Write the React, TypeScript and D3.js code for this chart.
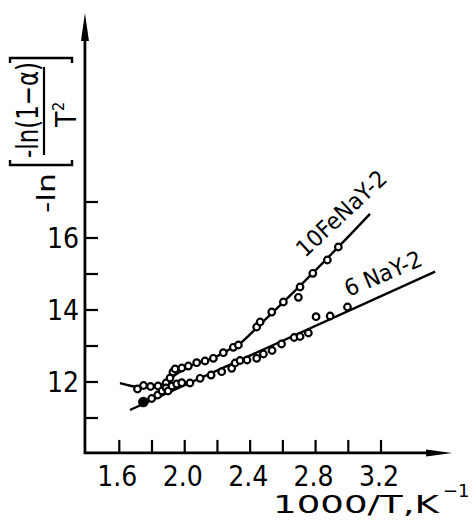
import * as d3 from "d3";

const FONT = '"Liberation Sans Narrow", "DejaVu Sans Condensed", "Liberation Sans", sans-serif';
const WIDE = '"DejaVu Sans", "Liberation Sans", sans-serif';

// 10FeNaY-2 measured points
const feX = [1.711, 1.748, 1.791, 1.837, 1.886, 1.91, 1.928, 1.941, 1.982, 2.022, 2.073, 2.124, 2.175, 2.236, 2.297, 2.328, 2.44, 2.461, 2.532, 2.603, 2.695, 2.705, 2.783, 2.872, 2.939];
const feY = [11.806, 11.903, 11.875, 11.889, 11.972, 12.111, 12.278, 12.361, 12.389, 12.444, 12.536, 12.583, 12.658, 12.814, 12.964, 13.028, 13.528, 13.667, 13.944, 14.222, 14.353, 14.639, 15.019, 15.389, 15.75];
// 10FeNaY-2 fitted curve
const feFitX = [1.604, 1.7, 1.79, 1.87, 1.95, 2.06, 2.18, 2.29, 2.34, 2.45, 2.7, 2.95, 3.133];
const feFitY = [11.97, 11.87, 11.86, 11.95, 12.22, 12.5, 12.68, 12.95, 13.08, 13.55, 14.65, 15.8, 16.67];

// 6 NaY-2 measured points
const naX = [1.747, 1.798, 1.835, 1.861, 1.886, 1.898, 1.922, 1.951, 1.982, 2.032, 2.094, 2.161, 2.226, 2.287, 2.308, 2.338, 2.381, 2.44, 2.481, 2.534, 2.592, 2.669, 2.705, 2.756, 2.803, 2.889, 2.995];
const naY = [11.444, 11.542, 11.639, 11.75, 11.833, 11.75, 11.889, 11.944, 11.981, 11.972, 12.103, 12.194, 12.286, 12.381, 12.528, 12.597, 12.611, 12.658, 12.778, 12.875, 13.056, 13.236, 13.264, 13.361, 13.814, 13.833, 14.083];
// 6 NaY-2 fitted line
const naFitX = [1.665, 3.531];
const naFitY = [11.222, 15.064];

const xTicks = [1.6, 1.8, 2.0, 2.2, 2.4, 2.6, 2.8, 3.0, 3.2];
const xTickLabels = ["1.6", "2.0", "2.4", "2.8", "3.2"];
const yTicks = [11, 12, 13, 14, 15, 16, 17];
const yTickLabels = ["12", "14", "16"];

const xExtent = [1.39, 3.635];
const yExtent = [10.03, 22.25];

export default function App() {
  const x = d3.scaleLinear().domain([1.6, 3.2]).range([119.3, 381]);
  const y = d3.scaleLinear().domain([12, 16]).range([382, 238]);

  const x0 = x(xExtent[0]);
  const x1 = x(xExtent[1]);
  const y0 = y(yExtent[0]);
  const y1 = y(yExtent[1]);

  const curve = d3
    .line<[number, number]>()
    .x((d) => x(d[0]))
    .y((d) => y(d[1]))
    .curve(d3.curveCatmullRom.alpha(0.5));
  const straight = d3
    .line<[number, number]>()
    .x((d) => x(d[0]))
    .y((d) => y(d[1]));

  const fePts = feX.map((v, i) => [v, feY[i]] as [number, number]);
  const naPts = naX.map((v, i) => [v, naY[i]] as [number, number]);
  const feFit = feFitX.map((v, i) => [v, feFitY[i]] as [number, number]);
  const naFit = naFitX.map((v, i) => [v, naFitY[i]] as [number, number]);

  const ink = "#000";

  return (
    <svg
      width={476}
      height={520}
      style={{ position: "absolute", left: 0, top: 0, background: "#fff" }}
      fontFamily={FONT}
    >
      {/* axes */}
      <line x1={x0} y1={y0 + 1} x2={x0} y2={y1 + 20} stroke={ink} strokeWidth={2.8} />
      <path d={`M${x0},${y1} L${x0 - 4},${y1 + 28} L${x0 + 4},${y1 + 28} Z`} fill={ink} />
      <line x1={x0 - 1} y1={y0} x2={x1 - 20} y2={y0} stroke={ink} strokeWidth={2.8} />
      <path d={`M${x1},${y0} L${x1 - 26},${y0 - 3.5} L${x1 - 26},${y0 + 3.5} Z`} fill={ink} />

      {xTicks.map((t) => (
        <line key={t} x1={x(t)} x2={x(t)} y1={y0} y2={y0 - 13} stroke={ink} strokeWidth={2.2} />
      ))}
      {xTickLabels.map((t) => (
        <text key={t} x={x(+t) - 2} y={486} fontSize={28} textAnchor="middle" fill={ink}>
          {t}
        </text>
      ))}
      {yTicks.map((t) => (
        <line key={t} x1={x0} x2={x0 + 13} y1={y(t)} y2={y(t)} stroke={ink} strokeWidth={2.2} />
      ))}
      {yTickLabels.map((t) => (
        <text key={t} x={79} y={y(+t) + 10} fontSize={28} textAnchor="end" fill={ink}>
          {t}
        </text>
      ))}

      {/* x axis title */}
      <text
        x={273}
        y={513}
        fontSize={25}
        fontFamily={WIDE}
        fill={ink}
        textLength={166}
        lengthAdjust="spacingAndGlyphs"
      >
        1000/T,K
      </text>
      <text x={443} y={497} fontSize={18} fontFamily={WIDE} fill={ink}>
        −1
      </text>

      {/* y axis title */}
      <g transform="translate(0,215) rotate(-90)" fill={ink}>
        <text x={2} y={55} fontSize={24} textLength={40} lengthAdjust="spacingAndGlyphs">
          -ln
        </text>
        <path d="M55,10 L50,10 L50,72 L55,72" fill="none" stroke={ink} strokeWidth={2.4} />
        <path d="M152,10 L157,10 L157,72 L152,72" fill="none" stroke={ink} strokeWidth={2.4} />
        <text x={57} y={38} fontSize={30} fontFamily={WIDE} textLength={96} lengthAdjust="spacingAndGlyphs">
          -ln(1−α)
        </text>
        <line x1={60} x2={148} y1={44} y2={44} stroke={ink} strokeWidth={2.2} />
        <text x={88} y={76} fontSize={28}>
          T
        </text>
        <text x={104} y={64} fontSize={16}>
          2
        </text>
      </g>

      {/* fitted lines */}
      <path d={curve(feFit) || ""} fill="none" stroke={ink} strokeWidth={2.4} />
      <path d={straight(naFit) || ""} fill="none" stroke={ink} strokeWidth={2.4} />

      {/* points */}
      {fePts.map((d, i) => (
        <circle key={`f${i}`} cx={x(d[0])} cy={y(d[1])} r={3.3} fill="#fff" stroke={ink} strokeWidth={2.2} />
      ))}
      {naPts.map((d, i) => (
        <circle
          key={`n${i}`}
          cx={x(d[0])}
          cy={y(d[1])}
          r={i === 0 ? 4.2 : 3.3}
          fill={i === 0 ? ink : "#fff"}
          stroke={ink}
          strokeWidth={2.2}
        />
      ))}

      {/* series labels */}
      <text
        transform={`translate(${x(2.736)},${y(15.44)}) rotate(-43)`}
        fontSize={23}
        fontFamily={WIDE}
        fill={ink}
        textLength={114}
        lengthAdjust="spacingAndGlyphs"
      >
        10FeNaY-2
      </text>
      <text
        transform={`translate(${x(3.001)},${y(14.36)}) rotate(-23)`}
        fontSize={23}
        fontFamily={WIDE}
        fill={ink}
        textLength={82}
        lengthAdjust="spacingAndGlyphs"
      >
        6 NaY-2
      </text>
    </svg>
  );
}
